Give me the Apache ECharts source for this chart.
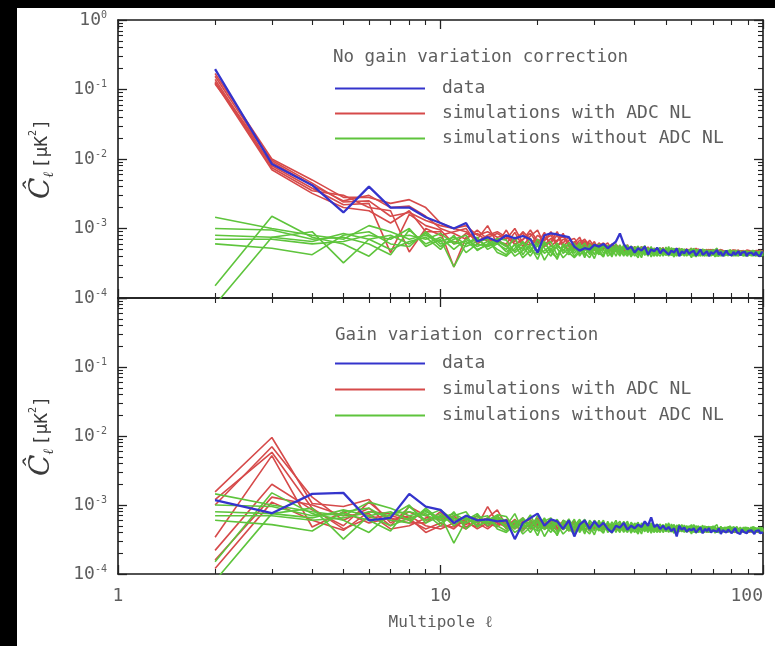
<!DOCTYPE html>
<html>
<head>
<meta charset="utf-8">
<script src="https://cdn.jsdelivr.net/npm/echarts@6/dist/echarts.min.js"></script>
<style>
html,body{margin:0;padding:0;background:#fff;}
#c{width:775px;height:646px;}
</style>
</head>
<body>
<div id="c"></div>
<script>
// Multipole values l = 2..100
const ell = Array.from({length: 99}, (_, i) => i + 2);
// values below are in units of 1e-5 muK^2
const UNIT = 1e-5;

const xMajorTicks = [1, 10, 100];
const yMajorTicks = [1e-4, 1e-3, 1e-2, 1e-1, 1];

const legendNames = ['data', 'simulations with ADC NL', 'simulations without ADC NL'];
const topTitle = 'No gain variation correction';
const bottomTitle = 'Gain variation correction';

// ---------- Top panel: no gain variation correction ----------
const topData = [19700,850,420,170,400,200,200,145,120,100,120,65,75,65,
 80,72,78,70,45,
 80,85,82,78,75,55,48,52,50,58,
 55,60,52,58,65,85,60,50,55,45,
 52,48,55,42,50,47,53,44,50,46,
 42,48,45,52,40,47,44,50,43,46,
 48,41,45,50,42,44,47,40,46,43,
 45,49,42,46,40,44,48,43,45,41,
 46,42,44,47,41,45,43,46,40,44,
 42,45,43,41,46,42,44,40,45,46];

const topSimNL1 = [17000,1000,500,280,280,230,260,200,120,100,110,80,90,75,
 80,65,90,70,58,75,62,80,55,68,
 72,56,65,50,60,52,58,48,55,50,
 46,54,49,45,52,47,50,44,49,53,
 45,50,47,43,51,46,48,44,50,47,
 43,49,46,48,44,50,45,47,43,48,
 46,44,49,45,47,43,48,45,46,44,
 48,45,43,47,45,49,44,46,43,47,
 45,48,44,46,43,47,45,44,48,45,
 46,44,47,45,46];
const topSimNL2 = [15500,900,420,250,300,200,210,150,100,85,70,95,70,65,
 60,88,55,78,95,58,72,65,85,55,
 62,75,52,68,55,60,50,57,46,55,
 52,47,55,50,45,53,48,52,46,50,
 48,52,45,49,46,51,44,48,52,45,
 49,46,51,44,48,46,43,49,47,45,
 48,45,47,50,44,46,48,45,43,47,
 45,47,44,48,46,43,47,45,49,44,
 47,45,48,43,46,49,44,46,45,47,
 44,47,45,48,44];
const topSimNL3 = [14000,800,380,220,230,45,160,110,95,60,85,70,110,60,
 95,58,70,85,60,88,55,68,78,60,
 55,68,60,52,65,48,56,62,50,58,
 50,45,53,48,55,46,51,47,44,52,
 47,44,50,46,49,45,52,47,44,49,
 46,50,44,47,49,45,48,44,50,46,
 44,48,46,43,49,46,44,48,46,49,
 44,46,48,45,44,47,45,48,44,46,
 48,44,46,49,45,43,47,46,44,48,
 45,48,44,46,47];
const topSimNL4 = [13000,750,350,300,200,180,46,100,80,90,100,60,75,85,
 70,100,62,58,80,66,90,58,62,75,
 58,62,70,56,50,62,54,48,60,52,
 56,49,46,55,48,52,45,50,54,47,
 52,46,49,53,45,48,50,46,48,52,
 45,48,50,46,45,49,47,51,45,48,
 47,50,44,48,46,45,50,43,48,46,
 47,43,46,49,45,47,43,48,46,45,
 43,47,45,44,48,46,43,48,46,44,
 48,45,43,47,45];
const topSimNL5 = [12500,700,320,200,180,120,180,90,90,28,75,85,65,70,
 55,72,85,60,70,55,65,90,58,50,
 65,50,58,62,48,56,62,52,48,60,
 48,52,58,46,50,44,55,48,52,45,
 50,47,44,50,48,44,46,51,45,48,
 51,44,47,50,46,48,52,45,48,44,
 49,46,45,48,50,44,46,49,45,48,
 46,49,45,43,48,46,49,45,47,43,
 46,49,43,47,45,48,46,45,43,46,
 49,43,46,44,48];
const topSimNL6 = [12000,950,450,240,250,150,170,130,110,100,90,65,80,90,
 75,60,68,95,65,70,80,56,70,64,
 50,58,66,60,58,50,60,55,58,46,
 54,50,48,52,46,50,54,45,48,50,
 44,49,52,46,50,47,45,49,46,44,
 48,47,44,49,52,44,46,48,44,50,
 45,47,50,44,47,49,45,47,50,45,
 48,44,47,46,49,45,48,44,46,48,
 44,46,47,45,49,44,46,47,49,45,
 47,45,49,46,44];

// simulations without ADC NL (same in both panels)
const simNoNL1 = [145,100,80,70,110,90,70,80,65,75,60,70,55,65,
 55,48,62,45,70,52,40,58,47,63,
 44,55,38,60,50,42,57,46,52,40,
 54,47,43,56,49,41,52,45,50,39,
 48,53,44,47,42,51,46,40,49,44,
 52,43,47,41,50,45,39,48,44,51,
 42,46,49,40,47,44,52,41,45,48,
 43,47,40,50,44,46,42,49,41,45,
 48,43,46,40,47,44,42,49,45,41,
 46,43,48,42,45];
const simNoNL2 = [100,95,70,75,60,42,95,60,75,50,70,55,65,50,
 42,60,50,72,44,58,65,41,55,48,
 62,40,52,47,58,45,39,55,48,60,
 42,50,58,40,46,53,44,49,42,55,
 41,46,50,43,48,40,53,45,42,50,
 44,49,40,46,43,52,45,41,47,42,
 50,43,41,47,44,39,46,49,42,45,
 47,41,49,43,46,40,48,42,45,47,
 41,46,43,48,42,45,40,47,43,46,
 42,47,41,45,44];
const simNoNL3 = [80,75,90,32,70,80,60,85,55,70,80,48,60,72,
 68,45,55,40,58,35,50,62,44,52,
 48,58,42,50,37,55,49,43,57,46,
 50,40,55,45,52,47,38,54,46,43,
 52,44,40,49,45,55,42,47,40,46,
 41,47,50,44,38,46,49,43,40,47,
 45,40,46,43,50,42,44,40,48,43,
 40,45,43,47,41,49,44,40,46,43,
 45,40,48,44,41,46,43,40,47,44,
 40,45,43,47,41];
const simNoNL4 = [70,70,60,65,80,70,100,55,70,28,60,75,50,60,
 50,75,42,60,48,65,45,38,60,55,
 40,50,62,44,55,48,60,40,45,52,
 44,58,42,48,40,50,45,57,41,48,
 45,40,48,52,41,45,49,42,51,47,
 49,45,42,50,46,40,44,50,42,46,
 44,48,42,45,41,49,43,46,40,47,
 45,42,46,41,48,43,45,47,42,44,
 42,47,41,45,48,41,46,43,41,47,
 44,41,46,43,40];
const simNoNL5 = [60,52,42,80,90,60,55,90,60,65,55,65,70,45,
 40,52,65,50,42,48,56,52,38,46,
 55,43,48,56,42,60,44,50,39,55,
 47,42,50,39,55,44,49,41,53,46,
 40,50,46,42,54,43,41,50,44,41,
 46,40,48,43,47,42,50,45,46,40,
 47,44,40,49,43,46,41,44,47,42,
 44,48,42,45,40,44,47,43,40,46,
 44,41,45,42,46,43,47,41,45,42,
 45,40,44,42,47];
const simNoNL6 = [15,150,75,60,40,75,80,70,85,60,65,50,58,68,
 58,40,48,55,36,62,47,55,50,42,
 50,62,45,38,52,44,55,47,42,50,
 58,45,40,52,44,38,55,43,49,51,
 43,48,53,40,46,48,44,39,47,52,
 42,51,44,47,41,48,42,46,49,43,
 40,46,48,42,46,43,40,47,44,41,
 48,44,41,46,43,47,40,45,48,42,
 46,44,42,46,40,44,48,42,44,40,
 47,43,45,40,46];
const simNoNL7 = [8,75,65,85,70,50,65,75,50,80,45,60,55,62,
 46,58,38,48,62,44,52,36,58,45,
 38,46,55,42,60,50,40,58,44,48,
 40,55,47,43,50,56,42,47,40,52,
 50,42,45,46,50,41,48,52,43,45,
 48,44,41,46,52,43,47,40,45,48,
 43,49,44,41,45,48,42,45,49,44,
 41,46,44,42,47,42,46,44,43,48,
 43,48,40,47,44,42,45,44,48,43,
 41,46,42,44,43];

// ---------- Bottom panel: gain variation correction ----------
const botData = [118,76,145,150,60,65,145,95,85,55,70,60,62,58,
 60,32,55,65,75,50,62,58,45,60,35,52,60,45,58,
 48,55,45,40,50,47,55,44,50,46,
 52,48,58,50,66,48,52,45,50,44,
 48,42,46,35,50,44,47,41,45,43,
 46,40,44,47,39,45,42,46,40,43,
 44,41,46,38,43,45,40,44,42,39,
 43,46,40,42,38,44,41,43,39,42,
 40,43,41,38,42,40,43,39,41,40];

const botSimNL1 = [155,950,105,95,120,55,80,60,70,
 60,52,70,48,62,55,45,58,50,65,
 48,55,42,60,50,46,55,44,52,48,
 45,50,43,48,52,44,47,50,42,46,
 49,44,47,42,50,45,43,48,44,46,
 42,47,44,40,46,43,48,41,45,43,
 46,41,44,47,42,45,40,46,43,44,
 41,45,43,40,46,42,44,41,45,42,
 44,40,45,42,43,46,41,44,42,43,
 40,44,42,45,41,43,40,44,42,43];
const botSimNL2 = [120,580,90,45,65,70,60,45,55,
 45,65,50,95,55,48,62,45,58,52,
 60,45,52,48,56,42,50,58,45,50,
 52,46,50,44,48,53,45,42,49,47,
 44,48,45,50,43,47,49,44,46,42,
 47,43,45,48,42,46,43,45,41,46,
 43,47,42,44,46,41,45,43,46,42,
 45,42,44,46,41,44,42,45,43,41,
 42,45,43,41,46,42,44,40,45,42,
 44,42,45,41,43,45,42,44,41,44];
const botSimNL3 = [100,700,130,60,90,50,95,70,60,
 70,48,58,65,85,50,55,60,48,55,
 52,62,48,45,58,52,44,50,55,46,
 48,54,46,50,45,48,52,46,44,50,
 46,50,43,46,48,44,50,42,47,45,
 45,41,48,44,46,42,45,47,43,45,
 41,45,46,42,44,47,43,42,45,47,
 43,46,41,44,43,46,41,43,46,44,
 46,42,44,45,41,43,45,42,44,46,
 42,45,43,42,45,41,44,43,45,42];
const botSimNL4 = [34,520,48,80,55,65,55,55,80,
 50,58,45,55,48,62,50,42,55,60,
 45,50,58,52,45,55,48,52,42,55,
 50,44,49,52,46,42,50,48,46,44,
 48,46,50,44,47,49,42,46,48,44,
 44,46,42,47,44,45,42,46,44,42,
 45,43,41,45,43,44,46,41,44,45,
 42,44,45,42,44,41,45,43,42,45,
 43,44,41,45,42,44,43,45,41,44,
 43,41,44,43,42,44,41,45,43,42];
const botSimNL5 = [22,200,85,50,110,60,70,50,45,
 55,45,62,50,70,45,52,65,45,50,
 55,48,45,55,42,50,52,45,48,52,
 46,48,52,45,50,46,44,52,48,45,
 50,43,46,48,45,42,47,45,43,48,
 46,44,41,45,43,47,44,42,46,44,
 44,42,46,43,41,45,44,47,42,43,
 46,43,42,45,44,43,46,42,44,43,
 41,46,42,44,45,41,43,44,46,41,
 45,43,41,44,46,42,45,41,44,43];
const botSimNL6 = [16,130,100,70,75,45,50,65,65,
 65,55,48,60,52,58,48,55,62,46,
 50,58,46,52,48,58,45,55,46,48,
 55,45,48,50,44,49,47,44,52,46,
 45,49,44,47,50,46,44,48,42,47,
 43,48,45,43,47,44,46,43,47,41,
 46,44,43,46,44,42,47,44,41,46,
 44,41,46,43,42,45,43,46,41,45,
 42,44,46,43,44,42,45,41,43,45,
 41,44,43,46,42,44,43,42,44,41];
const botSimNL7 = [12,110,60,43,80,75,65,40,50,
 48,62,55,45,58,50,60,50,52,58,
 46,52,55,44,52,48,56,42,50,45,
 50,47,44,52,48,45,49,43,47,51,
 47,45,48,43,46,50,44,47,45,43,
 48,45,43,46,44,42,47,44,42,45,
 42,46,44,43,45,46,41,45,44,42,
 45,42,44,43,46,42,44,45,42,43,
 45,42,43,46,42,45,41,43,45,42,
 42,45,42,43,44,41,46,42,43,44];

const topSimNL = [topSimNL1, topSimNL2, topSimNL3, topSimNL4, topSimNL5, topSimNL6];
const botSimNL = [botSimNL1, botSimNL2, botSimNL3, botSimNL4, botSimNL5, botSimNL6, botSimNL7];
const simNoNL = [simNoNL1, simNoNL2, simNoNL3, simNoNL4, simNoNL5, simNoNL6, simNoNL7];

// ---------- styling ----------
const C_BLUE = '#3434cc';
const C_RED = '#d64a4a';
const C_GREEN = '#5ec43c';
const TXT = '#5e5e5e';
const FONT = 'DejaVu Sans Mono';

const axisLineStyle = {show: true, onZero: false, lineStyle: {color: '#1a1a1a', width: 1.6}};
const tickStyle = {show: true, inside: true, length: 9, lineStyle: {color: '#222', width: 1.3}};
const minorStyle = {show: true, splitNumber: 9, length: 5, lineStyle: {color: '#222', width: 1.1}};

function makeX(g, position, withLabels) {
  const ax = {
    type: 'log', gridIndex: g, position: position, min: 1, max: 100,
    splitLine: {show: false}, minorSplitLine: {show: false},
    axisLine: axisLineStyle, axisTick: tickStyle, minorTick: minorStyle,
    axisLabel: {show: false}
  };
  if (withLabels) {
    ax.axisLabel = {show: true, customValues: xMajorTicks, margin: 13, alignMaxLabel: 'right',
      color: TXT, fontSize: 18, fontFamily: FONT, formatter: v => String(Math.round(v))};
    ax.name = 'Multipole ℓ';
    ax.nameLocation = 'middle';
    ax.nameGap = 41;
    ax.nameTextStyle = {color: TXT, fontSize: 16, fontFamily: FONT};
  }
  return ax;
}

function makeY(g, position, withLabels, hideTop) {
  const ax = {
    type: 'log', gridIndex: g, position: position, min: 1e-4, max: 1,
    splitLine: {show: false}, minorSplitLine: {show: false},
    axisLine: axisLineStyle, axisTick: tickStyle, minorTick: minorStyle,
    axisLabel: {show: false}
  };
  if (withLabels) {
    ax.axisLabel = {show: true, customValues: yMajorTicks, margin: 11,
      color: TXT, fontFamily: FONT,
      formatter: v => {
        const e = Math.round(Math.log10(v));
        if (hideTop && e === 0) return '';
        return '{b|10}{s|' + e + '}';
      },
      rich: {
        b: {fontSize: 18, lineHeight: 20, color: TXT, fontFamily: FONT},
        s: {fontSize: 10, lineHeight: 10, verticalAlign: 'top', color: TXT, fontFamily: FONT}
      }};
    ax.name = '{c|Ĉ}{l|ℓ} {u|[μK}{p|2}{u|]}';
    ax.nameLocation = 'middle';
    ax.nameRotate = 90;
    ax.nameGap = 62;
    ax.nameTextStyle = {
      rich: {
        c: {fontSize: 28, lineHeight: 28, color: '#3a3a3a', fontFamily: 'DejaVu Serif', fontStyle: 'italic'},
        l: {fontSize: 14, lineHeight: 28, verticalAlign: 'bottom', color: '#3a3a3a', fontFamily: 'DejaVu Serif', fontStyle: 'italic'},
        u: {fontSize: 18, lineHeight: 28, color: '#3a3a3a', fontFamily: FONT},
        p: {fontSize: 10, lineHeight: 10, verticalAlign: 'top', color: '#3a3a3a', fontFamily: FONT}
      }
    };
  }
  return ax;
}

const xAxes = [
  makeX(0, 'bottom', false), makeX(0, 'top', false),
  makeX(1, 'bottom', true), makeX(1, 'top', false)
];
const yAxes = [
  makeY(0, 'left', true, false), makeY(0, 'right', false),
  makeY(1, 'left', true, true), makeY(1, 'right', false)
];

function line(name, arr, color, width, axisIdx) {
  return {
    name: name, type: 'line', symbol: 'none', showSymbol: false,
    xAxisIndex: axisIdx, yAxisIndex: axisIdx, animation: false,
    lineStyle: {color: color, width: width}, itemStyle: {color: color},
    emphasis: {disabled: true},
    data: ell.map((l, i) => [l, arr[i] * UNIT])
  };
}

const series = [];
topSimNL.forEach(a => series.push(line(legendNames[1], a, C_RED, 1.6, 0)));
simNoNL.forEach(a => series.push(line(legendNames[2], a, C_GREEN, 1.6, 0)));
series.push(line(legendNames[0], topData, C_BLUE, 2.3, 0));
botSimNL.forEach(a => series.push(line(legendNames[1], a, C_RED, 1.6, 2)));
simNoNL.forEach(a => series.push(line(legendNames[2], a, C_GREEN, 1.6, 2)));
series.push(line(legendNames[0], botData, C_BLUE, 2.3, 2));

function legendAt(top, gap) {
  return {
    orient: 'vertical', left: 335, top: top, itemWidth: 90, itemHeight: 2, itemGap: gap,
    icon: 'rect', padding: 0, selectedMode: false, data: legendNames,
    textStyle: {color: TXT, fontSize: 18, fontFamily: FONT, padding: [0, 0, 0, 12]}
  };
}

const chart = echarts.init(document.getElementById('c'), null, {renderer: 'canvas'});
chart.setOption({
  backgroundColor: '#fff',
  animation: false,
  title: [
    {text: topTitle, left: 333, top: 48, padding: 0,
      textStyle: {color: TXT, fontSize: 17.5, fontWeight: 'normal', fontFamily: FONT}},
    {text: bottomTitle, left: 335, top: 326, padding: 0,
      textStyle: {color: TXT, fontSize: 17.5, fontWeight: 'normal', fontFamily: FONT}}
  ],
  legend: [legendAt(79.5, 7), legendAt(354.5, 8)],
  grid: [
    {left: 118, top: 20, width: 645, height: 278},
    {left: 118, top: 298, width: 645, height: 276}
  ],
  xAxis: xAxes,
  yAxis: yAxes,
  series: series,
  graphic: [
    {type: 'rect', left: 0, top: 0, shape: {width: 775, height: 8}, style: {fill: '#000'}, silent: true},
    {type: 'rect', left: 0, top: 0, shape: {width: 17, height: 646}, style: {fill: '#000'}, silent: true}
  ]
});
</script>
</body>
</html>
